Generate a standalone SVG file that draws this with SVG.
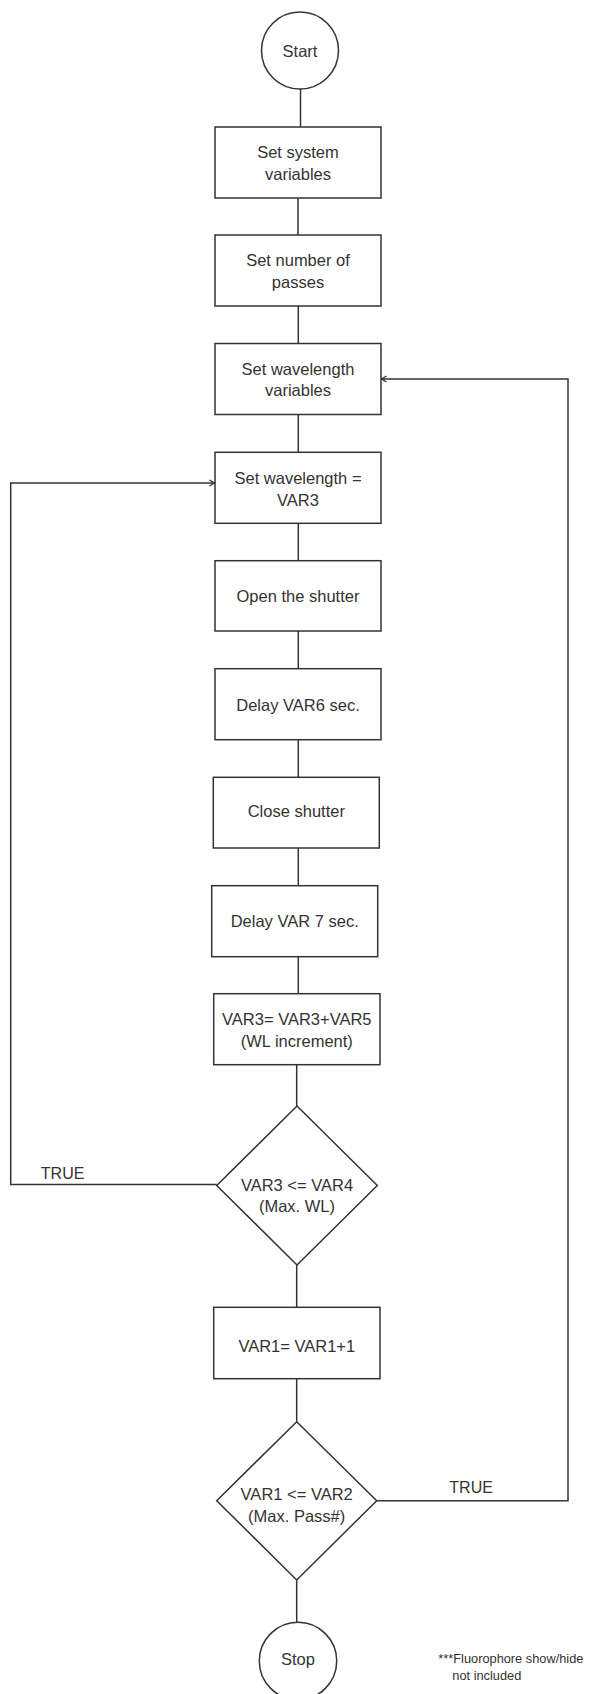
<svg xmlns="http://www.w3.org/2000/svg" width="592" height="1694" viewBox="0 0 592 1694">
<style>
.n{fill:#fff;stroke:#333;stroke-width:1.5}
.c{fill:none;stroke:#333;stroke-width:1.5}
.t{font-family:"Liberation Sans",Arial,sans-serif;font-size:16.5px;fill:#333;text-anchor:middle}
.l{font-family:"Liberation Sans",Arial,sans-serif;font-size:16px;fill:#333}
.f{font-family:"Liberation Sans",Arial,sans-serif;font-size:12.8px;fill:#333}
</style>
<defs>
<marker id="arr" markerWidth="8" markerHeight="8" refX="6" refY="4" orient="auto" markerUnits="userSpaceOnUse">
<path d="M1,1 L6,4 L1,7" fill="none" stroke="#333" stroke-width="1.3"/>
</marker>
</defs>
<rect width="592" height="1694" fill="#fff"/>
<g id="connectors">
<line class="c" x1="300.5" y1="89" x2="300.5" y2="127"/>
<line class="c" x1="298" y1="198" x2="298" y2="235"/>
<line class="c" x1="298.3" y1="306" x2="298.3" y2="343.5"/>
<line class="c" x1="298.3" y1="414.5" x2="298.3" y2="452.3"/>
<line class="c" x1="298.3" y1="523.3" x2="298.3" y2="560.7"/>
<line class="c" x1="298.3" y1="631" x2="298.3" y2="668.7"/>
<line class="c" x1="298.3" y1="739.7" x2="298.3" y2="777.3"/>
<line class="c" x1="298.3" y1="848" x2="298.3" y2="885.7"/>
<line class="c" x1="298.3" y1="956.7" x2="298.3" y2="993.7"/>
<line class="c" x1="296.7" y1="1064.7" x2="296.7" y2="1106"/>
<line class="c" x1="296.7" y1="1265" x2="296.7" y2="1307.3"/>
<line class="c" x1="296.7" y1="1378.7" x2="296.7" y2="1421.7"/>
<line class="c" x1="296.7" y1="1580" x2="296.7" y2="1622.3"/>
<polyline class="c" points="216.7,1184.5 10.7,1184.5 10.7,483 214.5,483" marker-end="url(#arr)"/>
<polyline class="c" points="376.7,1500.7 568,1500.7 568,379 381.5,379" marker-end="url(#arr)"/>
<text class="l" x="40.8" y="1179.3">TRUE</text>
<text class="l" x="449.3" y="1493.3">TRUE</text>
</g>
<g id="start">
<circle class="n" cx="300" cy="50.5" r="38.5"/>
<text class="t" x="300" y="56.5">Start</text>
</g>
<g id="set-system">
<rect class="n" x="215" y="127" width="166" height="71"/>
<text class="t" x="298" y="158">Set system</text>
<text class="t" x="298" y="179.5">variables</text>
</g>
<g id="set-passes">
<rect class="n" x="215" y="235" width="166" height="71"/>
<text class="t" x="298" y="266">Set number of</text>
<text class="t" x="298" y="287.7">passes</text>
</g>
<g id="set-wl-vars">
<rect class="n" x="215" y="343.5" width="166" height="71"/>
<text class="t" x="298" y="375">Set wavelength</text>
<text class="t" x="298" y="396">variables</text>
</g>
<g id="set-wl">
<rect class="n" x="215" y="452.3" width="166" height="71"/>
<text class="t" x="298" y="484">Set wavelength =</text>
<text class="t" x="298" y="505.7">VAR3</text>
</g>
<g id="open-shutter">
<rect class="n" x="215" y="560.7" width="166" height="70.3"/>
<text class="t" x="298" y="601.7">Open the shutter</text>
</g>
<g id="delay6">
<rect class="n" x="215" y="668.7" width="166" height="71"/>
<text class="t" x="298" y="710.7">Delay VAR6 sec.</text>
</g>
<g id="close-shutter">
<rect class="n" x="213.3" y="777.3" width="166" height="70.7"/>
<text class="t" x="296.3" y="816.7">Close shutter</text>
</g>
<g id="delay7">
<rect class="n" x="211.7" y="885.7" width="166" height="71"/>
<text class="t" x="294.7" y="927.3">Delay VAR 7 sec.</text>
</g>
<g id="increment">
<rect class="n" x="213.7" y="993.7" width="166.3" height="71"/>
<text class="t" x="296.8" y="1025">VAR3= VAR3+VAR5</text>
<text class="t" x="296.8" y="1047.3">(WL increment)</text>
</g>
<g id="check-wl">
<polygon class="n" points="297,1106 377.3,1185.5 297,1265 216.7,1185.5"/>
<text class="t" x="297" y="1190.7">VAR3 &lt;= VAR4</text>
<text class="t" x="297" y="1212.3">(Max. WL)</text>
</g>
<g id="inc-pass">
<rect class="n" x="213.7" y="1307.3" width="166.3" height="71.4"/>
<text class="t" x="296.8" y="1351.7">VAR1= VAR1+1</text>
</g>
<g id="check-pass">
<polygon class="n" points="296.7,1421.7 376.7,1500.7 296.7,1580 216.7,1500.7"/>
<text class="t" x="296.7" y="1500">VAR1 &lt;= VAR2</text>
<text class="t" x="296.7" y="1522.3">(Max. Pass#)</text>
</g>
<g id="stop">
<circle class="n" cx="298" cy="1661" r="38.7"/>
<text class="t" x="298" y="1664.5">Stop</text>
</g>
<g id="note">
<text class="f" x="438.3" y="1663.3">***Fluorophore show/hide</text>
<text class="f" x="452.3" y="1680">not included</text>
</g>
</svg>
